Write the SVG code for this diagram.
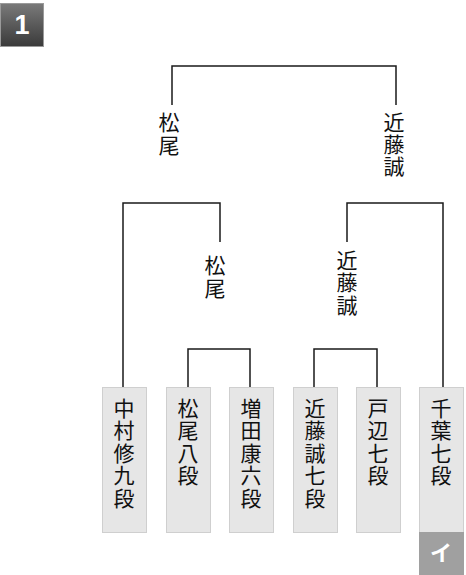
<svg xmlns="http://www.w3.org/2000/svg" width="466" height="575" viewBox="0 0 466 575">
<defs>
<linearGradient id="bg" x1="0" y1="0" x2="0" y2="1">
<stop offset="0" stop-color="#7a7a7a"/>
<stop offset="1" stop-color="#3a3a3a"/>
</linearGradient>
</defs>
<style>
.ln{fill:none;stroke:#1a1a1a;stroke-width:1.5}
.box{fill:#e6e6e6;stroke:#cfcfcf;stroke-width:1}
.t{font-family:"Noto Sans CJK JP","Noto Sans CJK SC",sans-serif;font-size:21px;fill:#111;text-anchor:middle}
</style>
<rect width="466" height="575" fill="#fff"/>
<g id="badge">
<rect x="0.5" y="3.5" width="43" height="43" fill="url(#bg)" stroke="#9a9a9a" stroke-width="1"/>
<text x="22" y="34" font-family="Liberation Sans,Arial,sans-serif" font-size="27" font-weight="bold" fill="#fff" text-anchor="middle">1</text>
</g>
<g id="connectors">
<path class="ln" d="M172 105V66H396V105"/>
<path class="ln" d="M123 387V203H220V242"/>
<path class="ln" d="M347 242V203H443V387"/>
<path class="ln" d="M188 387V349H250V387"/>
<path class="ln" d="M314 387V349H377V387"/>
</g>
<g id="final-left">
<text class="t"><tspan x="169" y="130">松</tspan><tspan x="169" y="152.5">尾</tspan></text>
</g>
<g id="final-right">
<text class="t"><tspan x="394" y="130">近</tspan><tspan x="394" y="152">藤</tspan><tspan x="394" y="174">誠</tspan></text>
</g>
<g id="semi-left">
<text class="t"><tspan x="215" y="273">松</tspan><tspan x="215" y="295.5">尾</tspan></text>
</g>
<g id="semi-right">
<text class="t"><tspan x="347" y="268">近</tspan><tspan x="347" y="290.3">藤</tspan><tspan x="347" y="312.6">誠</tspan></text>
</g>
<g id="p1">
<rect class="box" x="102.5" y="387.5" width="44" height="145"/>
<text class="t"><tspan x="124" y="416">中</tspan><tspan x="124" y="438.4">村</tspan><tspan x="124" y="460.8">修</tspan><tspan x="124" y="483.2">九</tspan><tspan x="124" y="505.6">段</tspan></text>
</g>
<g id="p2">
<rect class="box" x="166.5" y="387.5" width="44" height="145"/>
<text class="t"><tspan x="188" y="416">松</tspan><tspan x="188" y="438.4">尾</tspan><tspan x="188" y="460.8">八</tspan><tspan x="188" y="483.2">段</tspan></text>
</g>
<g id="p3">
<rect class="box" x="229.5" y="387.5" width="44" height="145"/>
<text class="t"><tspan x="251" y="416">増</tspan><tspan x="251" y="438.4">田</tspan><tspan x="251" y="460.8">康</tspan><tspan x="251" y="483.2">六</tspan><tspan x="251" y="505.6">段</tspan></text>
</g>
<g id="p4">
<rect class="box" x="293.5" y="387.5" width="44" height="145"/>
<text class="t"><tspan x="315" y="416">近</tspan><tspan x="315" y="438.4">藤</tspan><tspan x="315" y="460.8">誠</tspan><tspan x="315" y="483.2">七</tspan><tspan x="315" y="505.6">段</tspan></text>
</g>
<g id="p5">
<rect class="box" x="356.5" y="387.5" width="44" height="145"/>
<text class="t"><tspan x="378" y="416">戸</tspan><tspan x="378" y="438.4">辺</tspan><tspan x="378" y="460.8">七</tspan><tspan x="378" y="483.2">段</tspan></text>
</g>
<g id="p6">
<rect class="box" x="419.5" y="387.5" width="44" height="145"/>
<text class="t"><tspan x="441" y="416">千</tspan><tspan x="441" y="438.4">葉</tspan><tspan x="441" y="460.8">七</tspan><tspan x="441" y="483.2">段</tspan></text>
<rect x="419" y="532" width="45" height="43" fill="#a0a0a0"/>
<text x="441" y="561" font-family="Noto Sans CJK JP,sans-serif" font-size="22" font-weight="bold" fill="#fff" text-anchor="middle">イ</text>
</g>
</svg>
